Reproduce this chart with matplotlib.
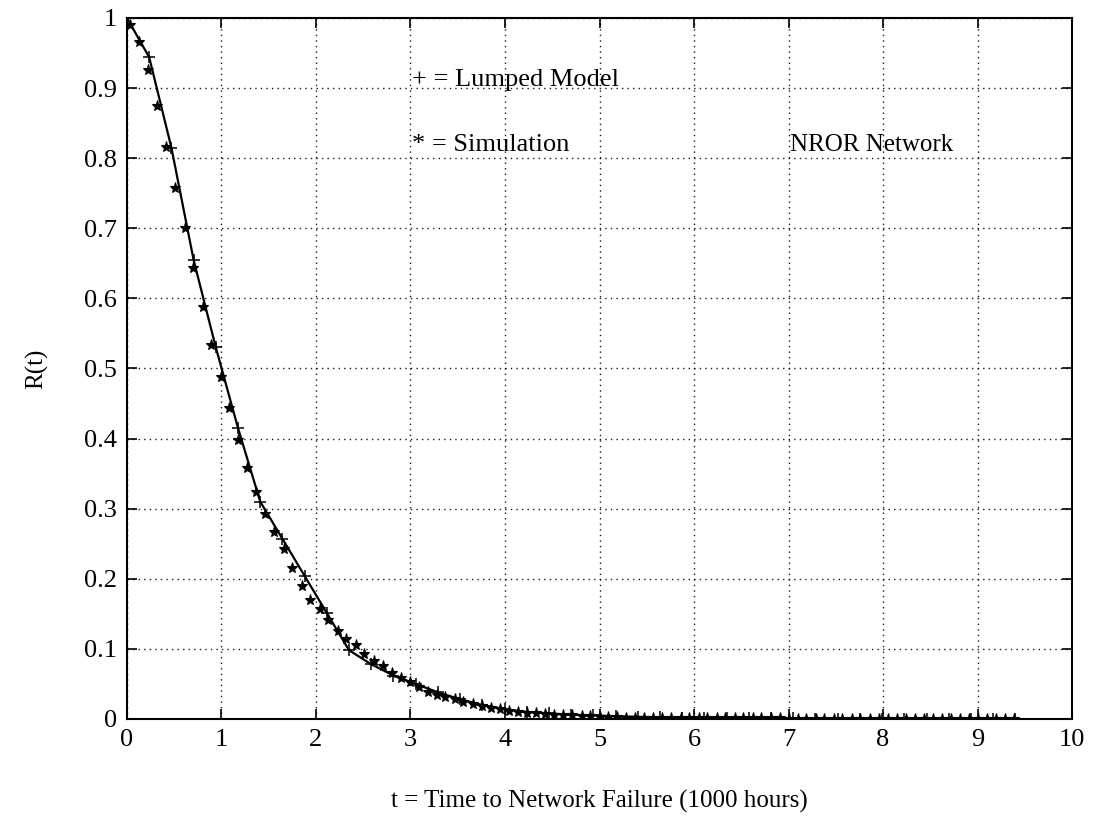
import matplotlib.pyplot as plt

# Lumped model (+, joined by a solid line)
t_lumped = [0.0, 0.235, 0.47, 0.705, 0.94, 1.175, 1.41, 1.645, 1.88, 2.115,
            2.35, 2.585, 2.82, 3.055, 3.29, 3.525, 3.76, 3.995, 4.23, 4.465,
            4.7, 4.935, 5.17, 5.405, 5.64, 5.875, 6.11, 6.345, 6.58, 6.815,
            7.05, 7.285, 7.52, 7.755, 7.99, 8.225, 8.46, 8.695, 8.93, 9.165, 9.4]
r_lumped = [1.0, 0.944, 0.815, 0.655, 0.530, 0.415, 0.310, 0.257, 0.204, 0.151,
            0.098, 0.078, 0.062, 0.050, 0.038, 0.028, 0.020, 0.014, 0.010, 0.008,
            0.006, 0.005, 0.004, 0.003, 0.0025, 0.002, 0.0016, 0.0013, 0.001, 0.0008,
            0.0007, 0.0006, 0.0005, 0.0004, 0.0003, 0.0003, 0.0002, 0.0002, 0.0001, 0.0001, 0.0001]

# Simulation (*)
t_sim = [0.03, 0.13, 0.22, 0.32, 0.41, 0.51, 0.61, 0.70, 0.80, 0.89,
         0.99, 1.08, 1.18, 1.27, 1.37, 1.46, 1.56, 1.66, 1.75, 1.85,
         1.94, 2.04, 2.13, 2.23, 2.32, 2.42, 2.51, 2.61, 2.71, 2.80,
         2.90, 2.99, 3.09, 3.18, 3.28, 3.37, 3.47, 3.56, 3.66, 3.76,
         3.85, 3.95, 4.04, 4.14, 4.23, 4.33, 4.42, 4.52, 4.61, 4.71,
         4.81, 4.90, 5.00, 5.09, 5.19, 5.28, 5.38, 5.47, 5.57, 5.66,
         5.76, 5.86, 5.95, 6.05, 6.14, 6.24, 6.33, 6.43, 6.52, 6.62,
         6.71, 6.81, 6.91, 7.00, 7.10, 7.19, 7.29, 7.38, 7.48, 7.57,
         7.67, 7.76, 7.86, 7.96, 8.05, 8.15, 8.24, 8.34, 8.43, 8.53,
         8.62, 8.72, 8.81, 8.91, 9.01, 9.10, 9.20, 9.29, 9.39]
r_sim = [0.990, 0.965, 0.926, 0.875, 0.816, 0.758, 0.700, 0.644, 0.587, 0.533,
         0.488, 0.444, 0.398, 0.358, 0.324, 0.293, 0.266, 0.242, 0.216, 0.189,
         0.170, 0.157, 0.141, 0.126, 0.114, 0.106, 0.092, 0.083, 0.076, 0.066,
         0.058, 0.053, 0.046, 0.039, 0.034, 0.031, 0.028, 0.024, 0.021, 0.018,
         0.016, 0.014, 0.012, 0.010, 0.009, 0.008, 0.007, 0.006, 0.005, 0.005,
         0.004, 0.004, 0.003, 0.003, 0.003, 0.002, 0.002, 0.002, 0.002, 0.002,
         0.002, 0.001, 0.001, 0.001, 0.001, 0.001, 0.001, 0.001, 0.001, 0.001,
         0.001, 0.001, 0.001, 0.0005, 0.0005, 0.0005, 0.0005, 0.0005, 0.0005, 0.0005,
         0.0005, 0.0005, 0.0005, 0.0005, 0.0005, 0.0005, 0.0005, 0.0005, 0.0005, 0.0005,
         0.0005, 0.0005, 0.0005, 0.0005, 0.0005, 0.0005, 0.0005, 0.0005, 0.0005]

x_ticks = [0, 1, 2, 3, 4, 5, 6, 7, 8, 9, 10]
y_ticks = [0, 0.1, 0.2, 0.3, 0.4, 0.5, 0.6, 0.7, 0.8, 0.9, 1]
y_tick_labels = ['0', '0.1', '0.2', '0.3', '0.4', '0.5', '0.6', '0.7', '0.8', '0.9', '1']

plt.rcParams['font.family'] = ['Liberation Serif', 'DejaVu Serif']

fig = plt.figure(figsize=(11.06, 8.23), dpi=100)
ax = fig.add_axes([0.1148, 0.1264, 0.8545, 0.8518])

ax.plot(t_lumped, r_lumped, 'k-', lw=1.6, marker='+', ms=9, mew=1.1)
ax.plot(t_sim, r_sim, 'k*', ls='none', ms=8, mew=0.8)

ax.set_xlim(0, 10)
ax.set_ylim(0, 1)
ax.set_xticks(x_ticks)
ax.set_yticks(y_ticks)
ax.set_xticklabels([str(v) for v in x_ticks])
ax.set_yticklabels(y_tick_labels)
ax.tick_params(direction='in', length=7, width=1.2, labelsize=19,
               top=True, right=True, pad=7)
ax.grid(True, color='k', ls=(0, (1, 3)), lw=1.0, alpha=0.9)
for s in ax.spines.values():
    s.set_linewidth(1.5)

ax.set_xlabel('t = Time to Network Failure (1000 hours)', fontsize=18, labelpad=28)
ax.set_ylabel('R(t)', fontsize=18, labelpad=26)

ax.text(3.02, 0.912, '+ = Lumped Model', fontsize=19, va='center')
ax.text(3.02, 0.819, '* = Simulation', fontsize=19, va='center')
ax.text(7.02, 0.819, 'NROR Network', fontsize=18, va='center')

plt.savefig('out.png', dpi=100)
plt.close()
